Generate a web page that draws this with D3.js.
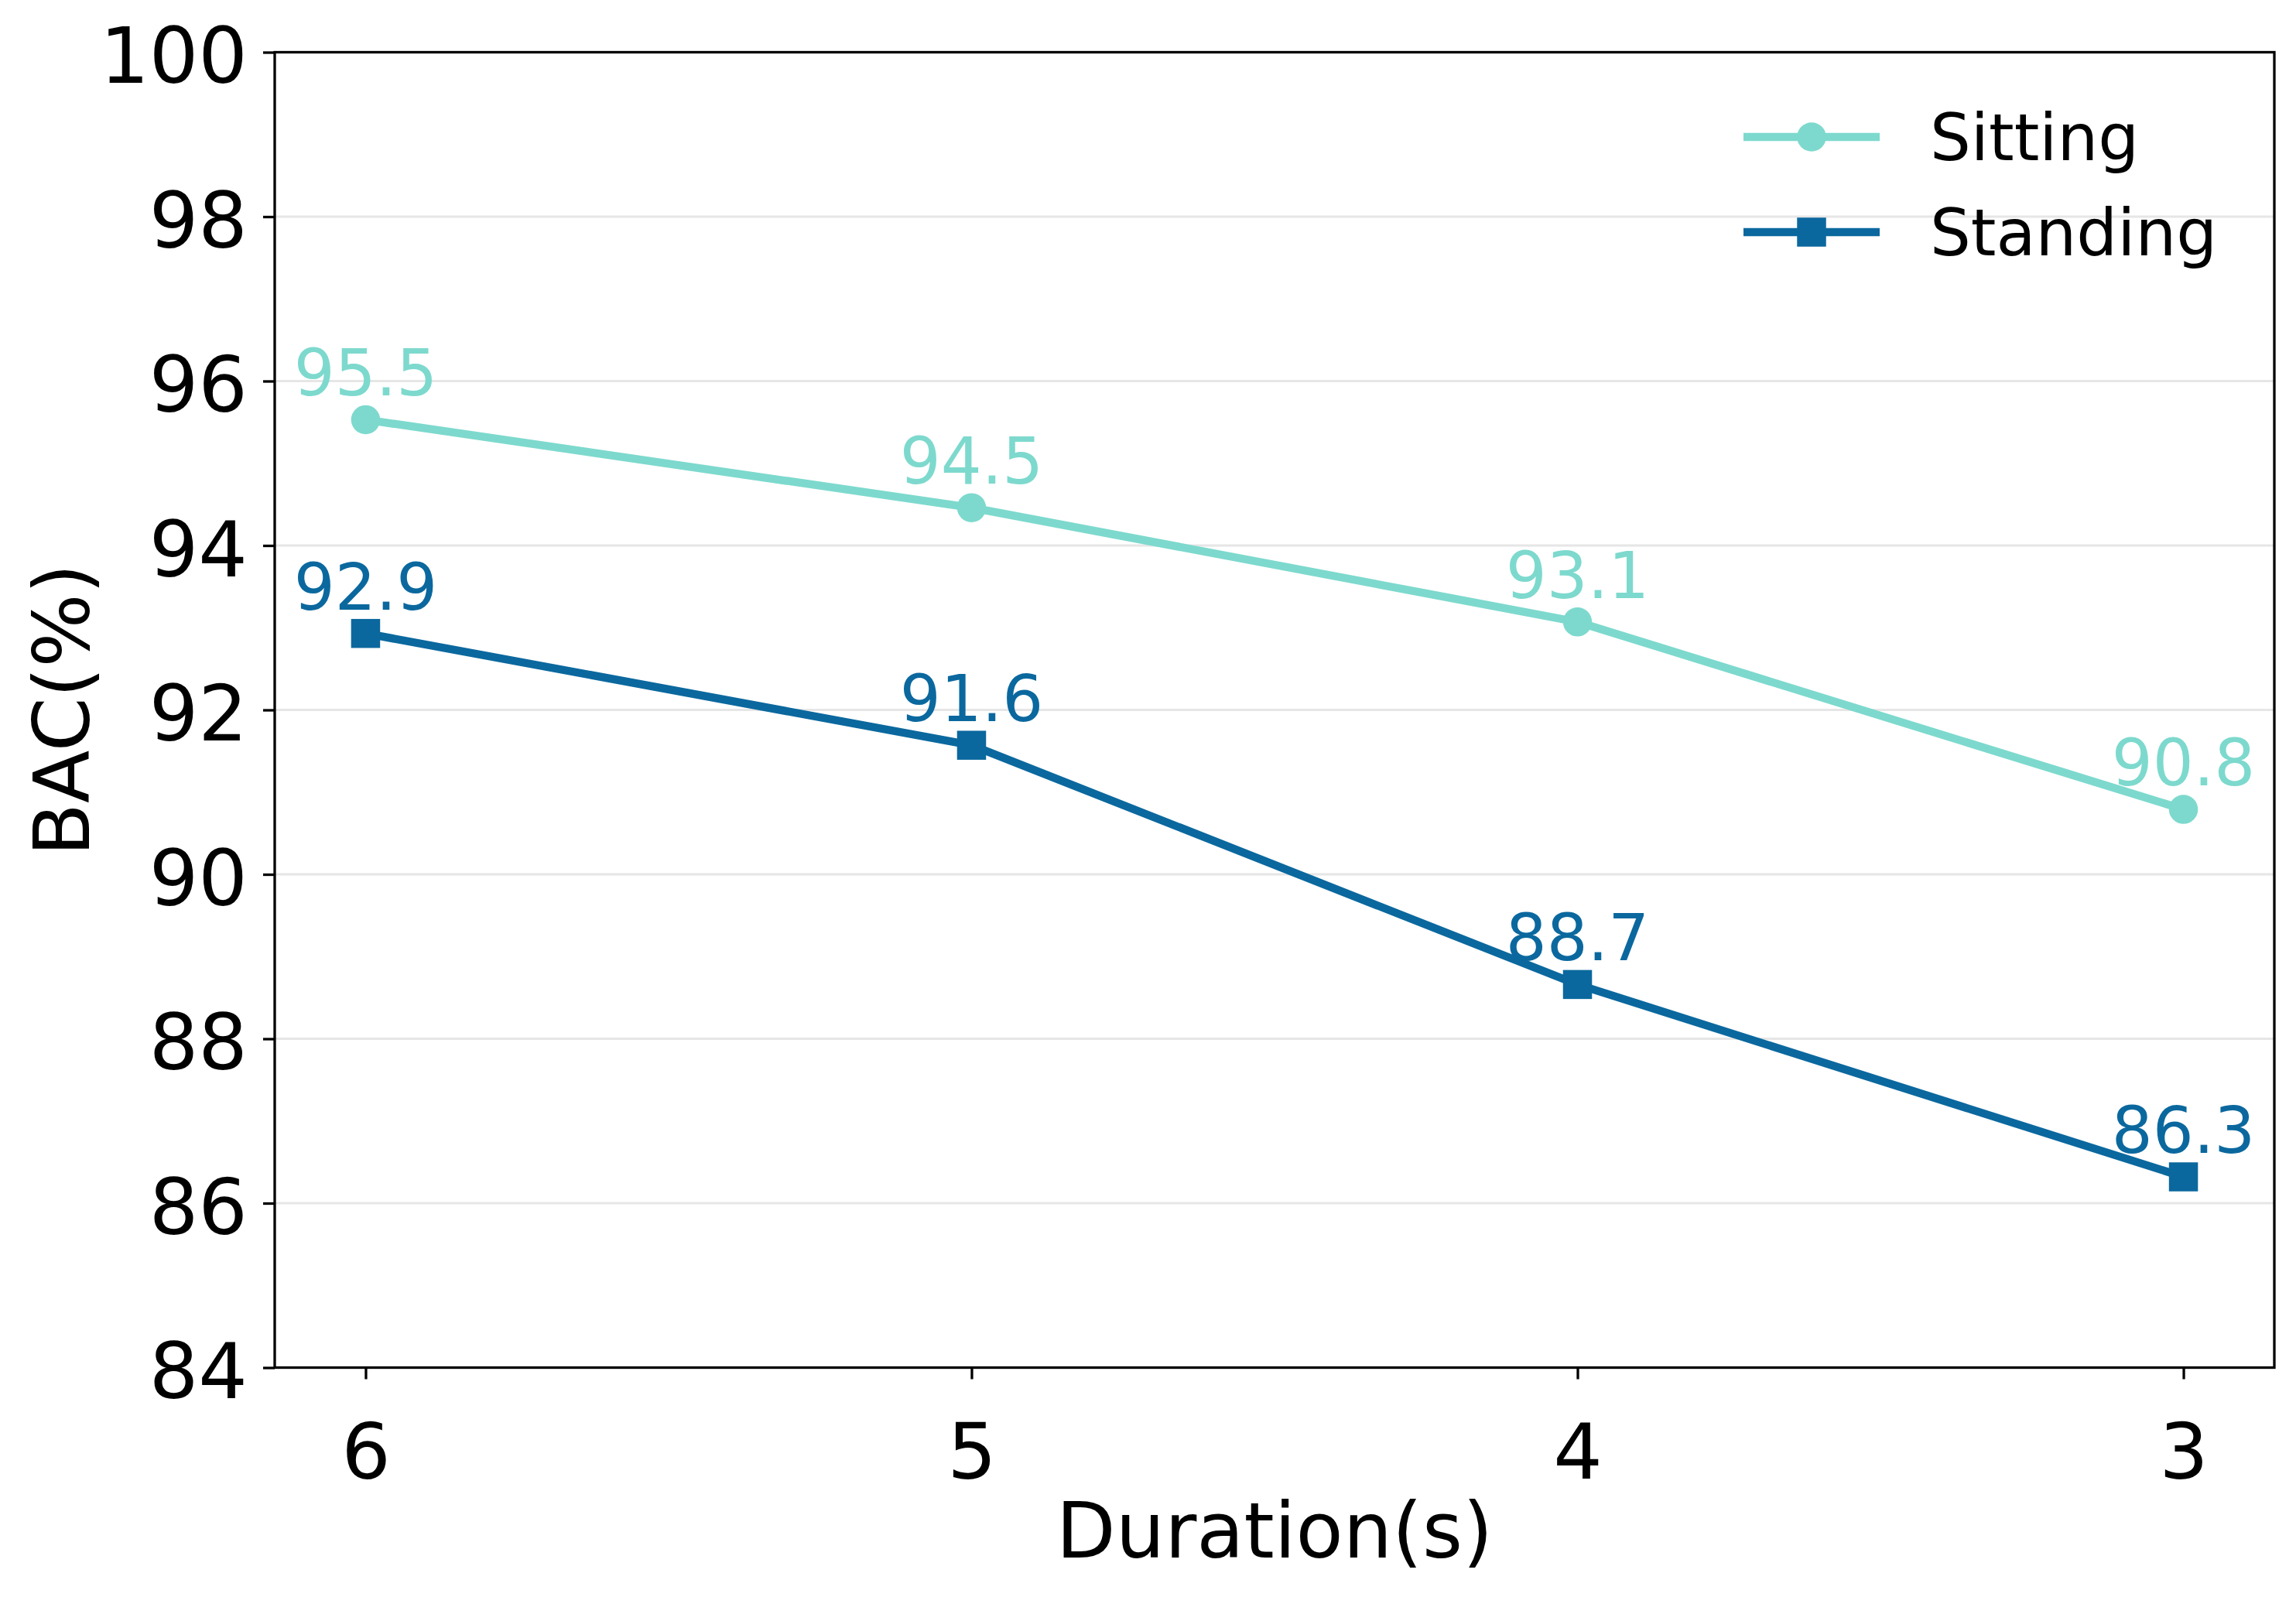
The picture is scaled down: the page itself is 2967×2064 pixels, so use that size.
<!DOCTYPE html>
<html>
<head>
<meta charset="utf-8">
<script src="https://cdn.jsdelivr.net/npm/d3@7"></script>
<style>
  html, body { margin: 0; padding: 0; background: #ffffff; }
  svg { display: block; }
  text { font-family: "DejaVu Sans", sans-serif; }
</style>
</head>
<body>
<svg id="chart" width="2967" height="2064"></svg>
<script>
// ---- data ----
const categories = ["6", "5", "4", "3"];
const sittingValues = [95.53, 94.46, 93.07, 90.79];
const standingValues = [92.93, 91.57, 88.66, 86.32];
const yTicks = [84, 86, 88, 90, 92, 94, 96, 98, 100];
const seriesNames = ["Sitting", "Standing"];
const xTitle = "Duration(s)";
const yTitle = "BAC(%)";

const colors = { Sitting: "#7dd9cd", Standing: "#0b689e" };

const series = [
  { name: seriesNames[0], values: sittingValues, marker: "circle" },
  { name: seriesNames[1], values: standingValues, marker: "square" }
];

// ---- layout ----
const plotL = 355, plotR = 2939, plotT = 67.5, plotB = 1767.5;
const svg = d3.select("#chart");

const x = d3.scalePoint().domain(categories).range([plotL, plotR]).padding(0.15);
const y = d3.scaleLinear().domain([84, 100]).range([plotB, plotT]);

// grid
svg.append("g").selectAll("line")
  .data(yTicks.filter(t => t > 84 && t < 100))
  .join("line")
  .attr("x1", plotL).attr("x2", plotR)
  .attr("y1", d => y(d)).attr("y2", d => y(d))
  .attr("stroke", "#e6e6e6").attr("stroke-width", 3);

// axes
const yAxis = svg.append("g")
  .attr("transform", `translate(${plotL},0)`)
  .call(d3.axisLeft(y).tickValues(yTicks).tickSize(15).tickPadding(20).tickSizeOuter(0));
yAxis.select(".domain").remove();
yAxis.selectAll(".tick line").attr("stroke", "#000").attr("stroke-width", 3.3);
yAxis.selectAll(".tick text")
  .attr("font-size", 100).attr("fill", "#000").attr("dy", "0.39em")
  .style("font-family", "'DejaVu Sans', sans-serif");

const xAxis = svg.append("g")
  .attr("transform", `translate(0,${plotB})`)
  .call(d3.axisBottom(x).tickSize(15).tickPadding(20).tickSizeOuter(0));
xAxis.select(".domain").remove();
xAxis.selectAll(".tick line").attr("stroke", "#000").attr("stroke-width", 3.3);
xAxis.selectAll(".tick text")
  .attr("font-size", 100).attr("fill", "#000").attr("y", 143).attr("dy", null)
  .style("font-family", "'DejaVu Sans', sans-serif");

// frame
svg.append("rect")
  .attr("x", plotL).attr("y", plotT)
  .attr("width", plotR - plotL).attr("height", plotB - plotT)
  .attr("fill", "none").attr("stroke", "#000").attr("stroke-width", 3.3);

// axis titles
svg.append("text")
  .attr("x", (plotL + plotR) / 2).attr("y", 2013)
  .attr("text-anchor", "middle").attr("font-size", 100).attr("fill", "#000")
  .text(xTitle);
svg.append("text")
  .attr("transform", `translate(115,${(plotT + plotB) / 2}) rotate(-90)`)
  .attr("text-anchor", "middle").attr("font-size", 100).attr("fill", "#000")
  .text(yTitle);

// series
const line = d3.line().x((d, i) => x(categories[i])).y(d => y(d));
const markerSize = 37.5;

series.forEach(s => {
  const g = svg.append("g");
  const c = colors[s.name];
  g.append("path").datum(s.values)
    .attr("d", line).attr("fill", "none")
    .attr("stroke", c).attr("stroke-width", 10.4).attr("stroke-linejoin", "round");
  if (s.marker === "circle") {
    g.selectAll("circle").data(s.values).join("circle")
      .attr("cx", (d, i) => x(categories[i])).attr("cy", d => y(d))
      .attr("r", markerSize / 2).attr("fill", c);
  } else {
    g.selectAll("rect").data(s.values).join("rect")
      .attr("x", (d, i) => x(categories[i]) - markerSize / 2)
      .attr("y", d => y(d) - markerSize / 2)
      .attr("width", markerSize).attr("height", markerSize).attr("fill", c);
  }
  g.selectAll("text").data(s.values).join("text")
    .attr("x", (d, i) => x(categories[i])).attr("y", d => y(d) - 31)
    .attr("text-anchor", "middle").attr("font-size", 83.3).attr("fill", c)
    .text(d => d.toFixed(1));
});

// legend
const legendY = [177, 300];
series.forEach((s, i) => {
  const c = colors[s.name];
  const g = svg.append("g");
  g.append("line").attr("x1", 2253).attr("x2", 2429)
    .attr("y1", legendY[i]).attr("y2", legendY[i])
    .attr("stroke", c).attr("stroke-width", 10.4);
  if (s.marker === "circle") {
    g.append("circle").attr("cx", 2341).attr("cy", legendY[i]).attr("r", markerSize / 2).attr("fill", c);
  } else {
    g.append("rect").attr("x", 2341 - markerSize / 2).attr("y", legendY[i] - markerSize / 2)
      .attr("width", markerSize).attr("height", markerSize).attr("fill", c);
  }
  g.append("text").attr("x", 2494).attr("y", legendY[i] + 30)
    .attr("font-size", 83.3).attr("fill", "#000").text(s.name);
});
</script>
</body>
</html>
